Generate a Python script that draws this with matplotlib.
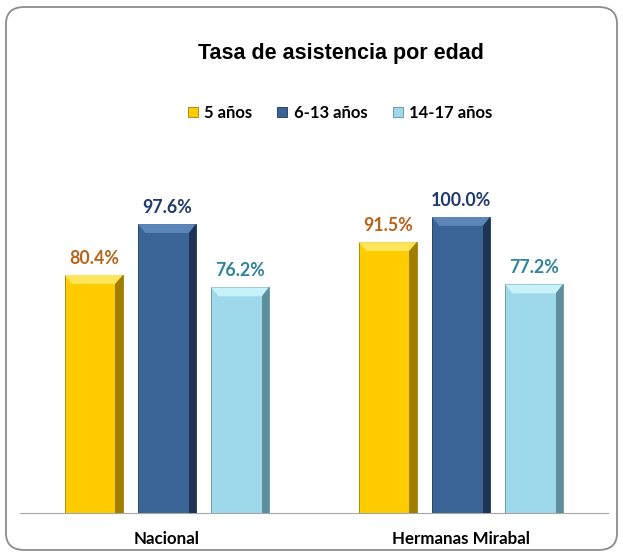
import matplotlib.pyplot as plt
import numpy as np
from matplotlib.patches import FancyBboxPatch, Polygon

# Data
categories = ["Nacional", "Hermanas Mirabal"]
series = ["5 años", "6-13 años", "14-17 años"]
values = [[80.4, 91.5],   # 5 años
          [97.6, 100.0],  # 6-13 años
          [76.2, 77.2]]   # 14-17 años

bar_colors = ["#FFCC00", "#3A6496", "#9DD9EA"]
label_colors = ["#B8651B", "#1F3A6E", "#31849B"]
top_colors = ["#FFE55C", "#5C86B8", "#C8F2FA"]
side_colors = ["#A07E00", "#1E3454", "#5F8F9C"]

lbl_font = ["Lato", "DejaVu Sans"]

fig = plt.figure(figsize=(6.23, 5.56), dpi=100)
ax = fig.add_axes([20 / 623, 1 - 513 / 556, 588 / 623, 400 / 556])

# rounded outer frame
frame = FancyBboxPatch((6 / 623, 6 / 556), 611 / 623, 543 / 556,
                       boxstyle="round,pad=0,rounding_size=0.03",
                       transform=fig.transFigure, facecolor="none",
                       edgecolor="#8C8C8C", linewidth=1.3)
fig.patches.append(frame)

x = np.arange(len(categories))
width = 0.197
offsets = [-0.249, 0, 0.249]
bevel = 0.025

for i, name in enumerate(series):
    bars = ax.bar(x + offsets[i], values[i], width, color=bar_colors[i],
                  edgecolor=side_colors[i], linewidth=0.6, label=name, zorder=2)
    for b, v in zip(bars, values[i]):
        x0, x1 = b.get_x(), b.get_x() + b.get_width()
        h = b.get_height()
        dy = 3.0
        # top bevel
        ax.add_patch(Polygon([(x0, h), (x1, h), (x1 - bevel, h - dy), (x0 + bevel, h - dy)],
                             closed=True, facecolor=top_colors[i], edgecolor="none", zorder=3))
        # right bevel
        ax.add_patch(Polygon([(x1, h), (x1, 0), (x1 - bevel, 0), (x1 - bevel, h - dy)],
                             closed=True, facecolor=side_colors[i], edgecolor="none", zorder=3))
        ax.text(b.get_x() + b.get_width() / 2, h + 2.8, f"{v:.1f}%", ha="center", va="bottom",
                color=label_colors[i], fontsize=12.8, fontweight="bold", family=lbl_font)

ax.set_xlim(-0.5, 1.5)
ax.set_ylim(0, 400 / 2.96)
ax.set_xticks(x)
ax.set_xticklabels(categories, fontsize=12.2, fontweight="bold", family=lbl_font)
ax.tick_params(axis="x", length=0, pad=13)
ax.set_yticks([])
for s in ["top", "left", "right"]:
    ax.spines[s].set_visible(False)
ax.spines["bottom"].set_color("#A6A6A6")

fig.text(341 / 623, 1 - 53 / 556, "Tasa de asistencia por edad", ha="center", va="center",
         fontsize=15.5, fontweight="bold", family="Liberation Sans")

leg = fig.legend(loc="center", bbox_to_anchor=(340 / 623, 1 - 113 / 556), ncol=3,
                 frameon=False, handlelength=0.6, handleheight=0.6, columnspacing=1.5,
                 handletextpad=0.4, prop={"family": lbl_font, "weight": "bold", "size": 12})

fig.savefig("out.png", dpi=100)
